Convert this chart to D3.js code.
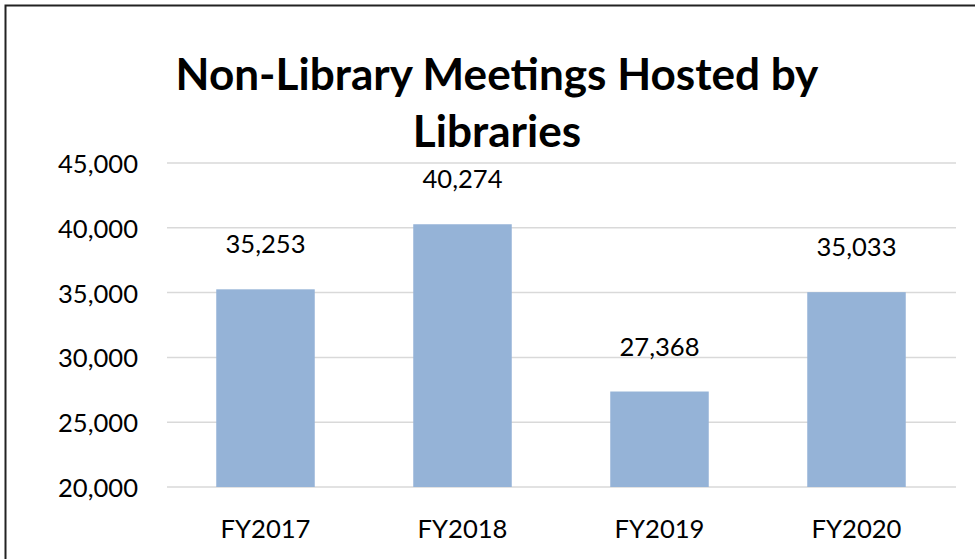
<!DOCTYPE html>
<html><head><meta charset="utf-8">
<script src="https://cdn.jsdelivr.net/npm/d3@7"></script>
<style>body{margin:0;background:#fff}svg{display:block}</style>
</head><body>
<script>
const categories = ["FY2017", "FY2018", "FY2019", "FY2020"];
const values = [35253, 40274, 27368, 35033];
const yTicks = [20000, 25000, 30000, 35000, 40000, 45000];
const titleLines = ["Non-Library Meetings Hosted by", "Libraries"];

const W = 975, H = 559;
const svg = d3.select("body").append("svg").attr("width", W).attr("height", H);
svg.append("rect").attr("width", W).attr("height", H).attr("fill", "#fff");
svg.append("rect").attr("x", 5.5).attr("y", 5.5).attr("width", W + 10).attr("height", H + 10)
  .attr("fill", "none").attr("stroke", "#222").attr("stroke-width", 2);

const FONT = "Lato, 'Noto Sans', sans-serif";
const x = d3.scaleBand().domain(categories).range([167, 955]).paddingInner(0.5).paddingOuter(0.25);
const y = d3.scaleLinear().domain([20000, 45000]).range([487, 163]);
const fmt = d3.format(",");

function fit(sel, target) {
  const n = sel.node();
  const fs = parseFloat(sel.attr("font-size"));
  const w = n.getComputedTextLength();
  sel.attr("font-size", (fs * target / w).toFixed(2));
}

// gridlines
svg.append("g").selectAll("line").data(yTicks).join("line")
  .attr("x1", 167).attr("x2", 956)
  .attr("y1", d => y(d)).attr("y2", d => y(d))
  .attr("stroke", "#d9d9d9").attr("stroke-width", 1.5);

// y axis labels
const yl = svg.append("g").selectAll("text").data(yTicks).join("text")
  .attr("x", 138).attr("y", d => y(d) + 10)
  .attr("text-anchor", "end").attr("font-family", FONT).attr("font-size", 28)
  .attr("fill", "#000").text(d => fmt(d));
yl.each(function(){ fit(d3.select(this), 80); });

// bars
svg.append("g").selectAll("rect").data(values).join("rect")
  .attr("x", (d, i) => x(categories[i])).attr("width", x.bandwidth())
  .attr("y", d => y(d)).attr("height", d => y(20000) - y(d))
  .attr("fill", "#95b3d7");

// value labels
const vl = svg.append("g").selectAll("text").data(values).join("text")
  .attr("x", (d, i) => x(categories[i]) + x.bandwidth() / 2)
  .attr("y", d => y(d) - 36)
  .attr("text-anchor", "middle").attr("font-family", FONT).attr("font-size", 28)
  .attr("fill", "#000").text(d => fmt(d));
vl.each(function(){ fit(d3.select(this), 80); });

// x labels
const xl = svg.append("g").selectAll("text").data(categories).join("text")
  .attr("x", d => x(d) + x.bandwidth() / 2).attr("y", 538)
  .attr("text-anchor", "middle").attr("font-family", FONT).attr("font-size", 28)
  .attr("fill", "#000").text(d => d);
xl.each(function(){ fit(d3.select(this), 90); });

// title
const t1 = svg.append("text").attr("x", 497).attr("y", 90).attr("text-anchor", "middle")
  .attr("font-family", FONT).attr("font-weight", "bold").attr("font-size", 44).attr("fill", "#000")
  .text(titleLines[0]);
fit(t1, 643);
svg.append("text").attr("x", 497).attr("y", 147).attr("text-anchor", "middle")
  .attr("font-family", FONT).attr("font-weight", "bold").attr("font-size", t1.attr("font-size")).attr("fill", "#000")
  .text(titleLines[1]);
</script>
</body></html>
